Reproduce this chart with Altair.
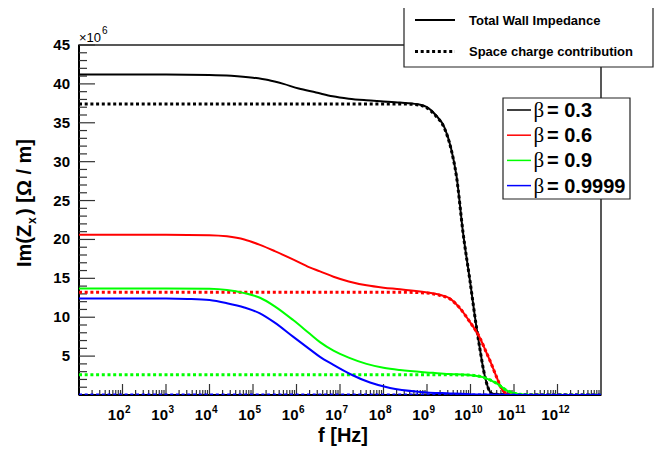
import altair as alt
import pandas as pd

W, H = 522, 350

# ---------------- data (x: log10 of f in Hz, y: Im(Zx) in units of 1e6 Ohm/m) ----------------
beta_labels = ["0.3", "0.6", "0.9", "0.9999"]
beta_colors = ["#000000", "#ff0000", "#00ff00", "#0000ff"]

b03_total_lf = [1, 2, 3, 4, 4.5, 5, 5.35, 5.7, 6.05, 6.45, 6.83, 7.2, 7.6, 8.0, 8.38, 8.77, 9.0, 9.2, 9.4,
                9.55, 9.68, 9.83, 9.985, 10.14, 10.22, 10.3, 10.4, 10.5, 11, 13]
b03_total_z = [41.2, 41.2, 41.2, 41.15, 41.05, 40.8, 40.5, 40.0, 39.4, 38.9, 38.4, 38.1, 37.9, 37.75, 37.6, 37.4,
               37.0, 36.0, 34.4, 31.8, 28.1, 20.8, 14.8, 8.6, 5.8, 3.2, 1.0, 0.15, 0, 0]
b03_sc_lf = [1, 3, 5, 7, 8, 8.5, 8.8, 9.0, 9.2, 9.4, 9.55, 9.68, 9.83, 9.985, 10.14, 10.22, 10.3, 10.4, 10.5, 11, 13]
b03_sc_z = [37.4, 37.4, 37.4, 37.4, 37.4, 37.4, 37.3, 36.9, 35.9, 34.3, 31.7, 28.0, 20.8, 14.8, 8.6, 5.8, 3.2,
            1.0, 0.15, 0, 0]

b06_total_lf = [1, 2, 3, 4, 4.4, 4.8, 5.16, 5.5, 5.93, 6.3, 6.54, 6.85, 7.2, 7.61, 8.0, 8.38, 8.84, 9.14, 9.35,
                9.53, 9.75, 9.985, 10.22, 10.37, 10.45, 10.6, 10.74, 10.9, 11.2, 13]
b06_total_z = [20.6, 20.6, 20.6, 20.55, 20.4, 20.0, 19.3, 18.5, 17.4, 16.4, 15.9, 15.2, 14.6, 14.1, 13.8, 13.6,
               13.3, 13.05, 12.8, 12.4, 11.2, 9.4, 7.3, 5.4, 4.4, 2.3, 0.6, 0.05, 0, 0]
b06_sc_lf = [1, 3, 5, 7, 8, 8.5, 9.0, 9.3, 9.53, 9.75, 9.985, 10.22, 10.37, 10.45, 10.6, 10.74, 10.9, 11.2, 13]
b06_sc_z = [13.2, 13.2, 13.2, 13.2, 13.2, 13.2, 13.1, 12.8, 12.35, 11.2, 9.4, 7.3, 5.4, 4.4, 2.3, 0.6, 0.05, 0, 0]

b09_total_lf = [1, 2, 3, 4, 4.4, 4.8, 5.16, 5.5, 5.93, 6.3, 6.54, 6.85, 7.2, 7.61, 8.0, 8.38, 9.14, 9.5, 9.9,
                10.28, 10.6, 10.83, 11.13, 11.5, 13]
b09_total_z = [13.7, 13.7, 13.7, 13.65, 13.5, 13.1, 12.5, 11.4, 9.6, 7.9, 6.8, 5.7, 4.8, 4.0, 3.5, 3.2, 2.85,
               2.7, 2.6, 2.3, 1.5, 0.6, 0.1, 0, 0]
b09_sc_lf = [1, 3, 5, 7, 9, 9.9, 10.28, 10.6, 10.83, 11.13, 11.5, 13]
b09_sc_z = [2.6, 2.6, 2.6, 2.6, 2.6, 2.58, 2.3, 1.5, 0.6, 0.1, 0, 0]

b1_total_lf = [1, 2, 3, 3.5, 4, 4.4, 4.8, 5.16, 5.5, 5.92, 6.3, 6.54, 6.84, 7.23, 7.69, 8.15, 8.84, 9.53,
               10.22, 11, 13]
b1_total_z = [12.4, 12.4, 12.4, 12.35, 12.2, 11.8, 11.25, 10.5, 9.3, 7.5, 5.9, 4.9, 3.9, 2.7, 1.6, 0.9, 0.4,
              0.2, 0.05, 0, 0]
b1_sc_lf = [1, 13]
b1_sc_z = [0, 0]

legend_kinds = ["Total Wall Impedance", "Space charge contribution"]
y_major = [5, 10, 15, 20, 25, 30, 35, 40, 45]
x_decades = [2, 3, 4, 5, 6, 7, 8, 9, 10, 11, 12]

series = [
    (0, "total", b03_total_lf, b03_total_z), (0, "sc", b03_sc_lf, b03_sc_z),
    (1, "total", b06_total_lf, b06_total_z), (1, "sc", b06_sc_lf, b06_sc_z),
    (2, "total", b09_total_lf, b09_total_z), (2, "sc", b09_sc_lf, b09_sc_z),
    (3, "total", b1_total_lf, b1_total_z), (3, "sc", b1_sc_lf, b1_sc_z),
]

FONT = "Liberation Sans"
xscale = alt.Scale(type="log", domain=[10, 1e13])
yscale = alt.Scale(domain=[0, 45])
one = alt.Data(values=[{}])

layers = []

# axis lines (left & bottom, thick)
layers.append(alt.Chart(one).mark_rule(color="black", strokeWidth=2).encode(
    x=alt.value(0), y=alt.value(0), y2=alt.value(H)))
layers.append(alt.Chart(one).mark_rule(color="black", strokeWidth=2).encode(
    x=alt.value(0), x2=alt.value(W), y=alt.value(H)))

# y ticks
y_minor = [v for v in range(1, 45) if v % 5]
layers.append(alt.Chart(pd.DataFrame({"v": y_major})).mark_rule(color="#333", strokeWidth=1.2).encode(
    y=alt.Y("v:Q", scale=yscale, axis=None), x=alt.value(0), x2=alt.value(16)))
layers.append(alt.Chart(pd.DataFrame({"v": y_minor})).mark_rule(color="#333", strokeWidth=1.2).encode(
    y=alt.Y("v:Q", scale=yscale, axis=None), x=alt.value(0), x2=alt.value(8)))

# x ticks
x_major = [10.0 ** d for d in x_decades]
x_minor = [m * 10.0 ** d for d in range(1, 13) for m in range(2, 10)]
layers.append(alt.Chart(pd.DataFrame({"f": x_major})).mark_rule(color="#333", strokeWidth=1.2).encode(
    x=alt.X("f:Q", scale=xscale, axis=None), y=alt.value(H), y2=alt.value(H - 11)))
layers.append(alt.Chart(pd.DataFrame({"f": x_minor})).mark_rule(color="#333", strokeWidth=1.2).encode(
    x=alt.X("f:Q", scale=xscale, axis=None), y=alt.value(H), y2=alt.value(H - 5)))

# curves
for bi, kind, lf, z in series:
    df = pd.DataFrame({"f": [10.0 ** v for v in lf], "z": z})
    kw = dict(color=beta_colors[bi], interpolate="monotone", clip=True)
    if kind == "total":
        kw["strokeWidth"] = 2
    else:
        kw["strokeWidth"] = 3
        kw["strokeDash"] = [3, 2.7]
    layers.append(alt.Chart(df).mark_line(**kw).encode(
        x=alt.X("f:Q", scale=xscale, axis=None), y=alt.Y("z:Q", scale=yscale, axis=None)))

# y tick labels
layers.append(alt.Chart(pd.DataFrame({"v": y_major, "t": [str(v) for v in y_major]})).mark_text(
    font=FONT, fontSize=15, fontWeight="bold", align="right", baseline="middle", color="black").encode(
    y=alt.Y("v:Q", scale=yscale, axis=None), x=alt.value(-9), text="t:N"))

# x tick labels: "10" + superscript exponent
lab_df = pd.DataFrame({"f": x_major, "e": [str(d) for d in x_decades]})
one_digit = lab_df[lab_df["e"].str.len() == 1]
two_digit = lab_df[lab_df["e"].str.len() == 2]
for sub, dx10, dxe in [(one_digit, 2, 2.5), (two_digit, 0.5, 1)]:
    layers.append(alt.Chart(sub).mark_text(text="10", font=FONT, fontSize=15, fontWeight="bold",
                                           align="right", baseline="alphabetic", dx=dx10, color="black").encode(
        x=alt.X("f:Q", scale=xscale, axis=None), y=alt.value(375)))
    layers.append(alt.Chart(sub).mark_text(font=FONT, fontSize=10, fontWeight="bold",
                                           align="left", baseline="alphabetic", dx=dxe, color="black").encode(
        x=alt.X("f:Q", scale=xscale, axis=None), y=alt.value(368), text="e:N"))

# x10^6 multiplier
layers.append(alt.Chart(one).mark_text(text="×10", font=FONT, fontSize=13, align="left",
                                       baseline="alphabetic", color="black").encode(x=alt.value(0), y=alt.value(-3)))
layers.append(alt.Chart(one).mark_text(text="6", font=FONT, fontSize=10, align="left",
                                       baseline="alphabetic", color="black").encode(x=alt.value(23), y=alt.value(-11)))

# axis titles
layers.append(alt.Chart(one).mark_text(text="f [Hz]", font=FONT, fontSize=20, fontWeight="bold", align="center",
                                       baseline="alphabetic", color="black").encode(x=alt.value(264), y=alt.value(397)))
layers.append(alt.Chart(one).mark_text(text="Im(Z", font=FONT, fontSize=20, fontWeight="bold", angle=270,
                                       align="left", baseline="alphabetic", color="black").encode(
    x=alt.value(-48), y=alt.value(222)))
layers.append(alt.Chart(one).mark_text(text="x", font=FONT, fontSize=12, fontWeight="bold", angle=270,
                                       align="left", baseline="alphabetic", color="black").encode(
    x=alt.value(-43), y=alt.value(179)))
layers.append(alt.Chart(one).mark_text(text=") [Ω / m]", font=FONT, fontSize=20, fontWeight="bold", angle=270,
                                       align="left", baseline="alphabetic", color="black").encode(
    x=alt.value(-48), y=alt.value(170)))

# legend 1 (line styles)
layers.append(alt.Chart(one).mark_rect(fill="white", stroke="#222", strokeWidth=1.2).encode(
    x=alt.value(325), x2=alt.value(574), y=alt.value(-40), y2=alt.value(22)))
layers.append(alt.Chart(one).mark_rule(color="black", strokeWidth=2).encode(
    x=alt.value(336), x2=alt.value(376), y=alt.value(-25)))
layers.append(alt.Chart(one).mark_rule(color="black", strokeWidth=3, strokeDash=[3, 2.7]).encode(
    x=alt.value(336), x2=alt.value(376), y=alt.value(6.5)))
for i, lab in enumerate(legend_kinds):
    layers.append(alt.Chart(one).mark_text(text=lab, font=FONT, fontSize=13, fontWeight="bold", align="left",
                                           baseline="alphabetic", color="black").encode(
        x=alt.value(390), y=alt.value(-20.5 + 31 * i)))

# legend 2 (beta colours)
layers.append(alt.Chart(one).mark_rect(fill="white", stroke="#222", strokeWidth=1.2).encode(
    x=alt.value(424), x2=alt.value(551), y=alt.value(53), y2=alt.value(154)))
for i, (lab, col) in enumerate(zip(beta_labels, beta_colors)):
    yc = 65 + 25.2 * i
    layers.append(alt.Chart(one).mark_rule(color=col, strokeWidth=1.5).encode(
        x=alt.value(428), x2=alt.value(452), y=alt.value(yc)))
    layers.append(alt.Chart(one).mark_text(text="β", font="Liberation Serif", fontSize=21, align="left",
                                           baseline="alphabetic", color="black").encode(
        x=alt.value(454.5), y=alt.value(yc + 7)))
    layers.append(alt.Chart(one).mark_text(text="= " + lab, font=FONT, fontSize=20, fontWeight="bold",
                                           align="left", baseline="alphabetic", color="black").encode(
        x=alt.value(468), y=alt.value(yc + 7)))

chart = alt.layer(*layers).properties(
    width=W, height=H,
    padding={"left": 71, "top": 37, "right": 53, "bottom": 54},
    autosize=alt.AutoSizeParams(type="none"),
    background="white",
).configure_view(stroke="#222", strokeWidth=1.5)

chart.save("out.html", embed_options={"renderer": "svg", "actions": False})
